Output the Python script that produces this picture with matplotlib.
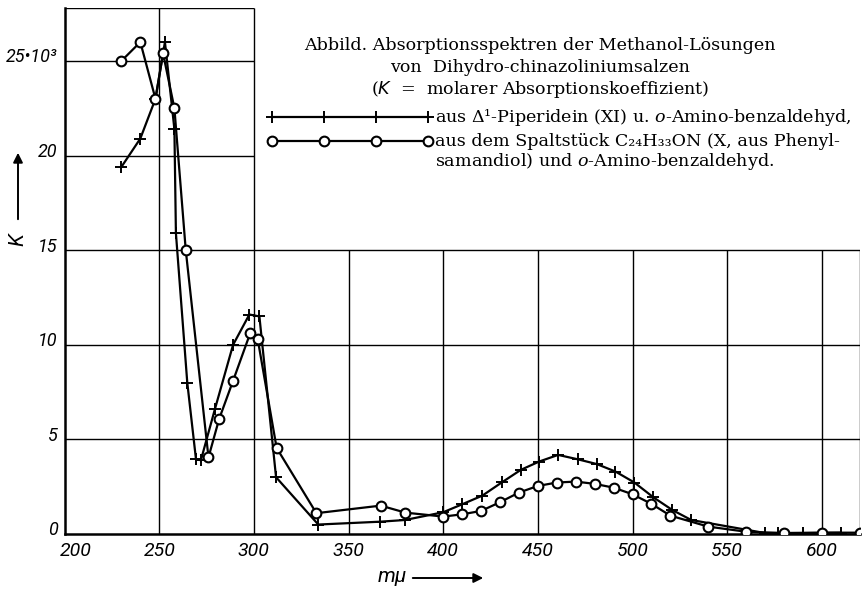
import matplotlib
matplotlib.use('Agg')
import matplotlib.pyplot as plt
from matplotlib.lines import Line2D
from matplotlib.patches import FancyArrowPatch
from matplotlib.transforms import ScaledTranslation

plt.rcParams['mathtext.fontset'] = 'custom'
plt.rcParams['mathtext.rm'] = 'DejaVu Serif'
plt.rcParams['mathtext.it'] = 'DejaVu Serif:italic'
plt.rcParams['mathtext.sf'] = 'DejaVu Sans:italic'

# ---- data ----
wl_piperidein = [230, 240, 248, 253, 258, 258.8, 264.8, 269.4, 272, 279.4, 289, 297.6, 302.9,
                 311.7, 334, 366.6, 379.8, 400, 410, 420.7, 431, 441, 450.7, 460.7, 471, 481,
                 491, 501, 511, 521, 531, 570, 577, 590, 610]
k_piperidein = [19.4, 20.9, 23.0, 26.0, 21.4, 15.9, 8.0, 3.95, 3.9, 6.6, 10.0, 11.6, 11.5,
                3.0, 0.5, 0.65, 0.74, 1.15, 1.57, 2.03, 2.73, 3.39, 3.83, 4.18, 3.95, 3.7,
                3.3, 2.72, 1.94, 1.27, 0.74, 0.05, 0.05, 0.05, 0.07]

wl_spalt = [230, 240, 248, 252, 258, 264, 276, 281.6, 289, 298, 302, 312, 333, 367, 380,
            400, 410, 420, 430, 440, 450, 460, 470, 480, 490, 500, 510, 520, 540, 560, 580,
            600, 620]
k_spalt = [25.0, 26.0, 23.0, 25.4, 22.5, 15.0, 4.05, 6.07, 8.1, 10.6, 10.3, 4.55, 1.1, 1.5,
           1.13, 0.92, 1.04, 1.22, 1.68, 2.19, 2.54, 2.72, 2.77, 2.65, 2.45, 2.1, 1.59, 0.97,
           0.39, 0.12, 0.05, 0.07, 0.07]

x_ticks = [200, 250, 300, 350, 400, 450, 500, 550, 600]
y_ticks = [0, 5, 10, 15, 20, 25]
y_tick_labels = ['0', '5', '10', '15', '20', '25•10³']

title_lines = ['Abbild. Absorptionsspektren der Methanol-Lösungen',
               'von  Dihydro-chinazoliniumsalzen',
               r'($\mathsf{K}$  =  molarer Absorptionskoeffizient)']
legend_lines = [r'aus Δ¹-Piperidein (XI) u. $o$-Amino-benzaldehyd,',
                'aus dem Spaltstück C₂₄H₃₃ON (X, aus Phenyl-',
                r'samandiol) und $o$-Amino-benzaldehyd.']

W, H = 864, 590
fig = plt.figure(figsize=(W / 100, H / 100), dpi=100)
x0, x1, ytop, ybot = 64.6, 859.7, 8, 534
ax = fig.add_axes([x0 / W, 1 - ybot / H, (x1 - x0) / W, (ybot - ytop) / H])
ax.set_xlim(200, 620)
ax.set_ylim(0, 27.8)
for s in ['top', 'right']:
    ax.spines[s].set_visible(False)
for s in ['left', 'bottom']:
    ax.spines[s].set_linewidth(1.8)

gc = dict(color='black', lw=1.0, zorder=1)
ax.hlines([5, 10, 15], 200, 620, **gc)
ax.hlines([20, 25, 27.8], 200, 300, **gc)
ax.vlines([250, 300], 0, 27.8, **gc)
ax.vlines([350, 400, 450, 500, 550, 600, 620], 0, 15, **gc)

ax.set_xticks(x_ticks)
ax.set_xticklabels([str(v) for v in x_ticks], family='Roboto', style='italic', size=14)
ax.set_yticks(y_ticks)
ax.set_yticklabels(y_tick_labels, family='Roboto', style='italic', size=13)
ax.tick_params(length=0, pad=6)
ax.tick_params(axis='y', pad=5)

# small offsets like the original lettering
for lab in ax.get_yticklabels():
    lab.set_transform(lab.get_transform() + ScaledTranslation(0, 4 / 72, fig.dpi_scale_trans))
first = ax.get_xticklabels()[0]
first.set_transform(first.get_transform() + ScaledTranslation(8 / 72, 0, fig.dpi_scale_trans))

ax.plot(wl_piperidein, k_piperidein, color='black', lw=1.6, marker='+', ms=9, mew=1.4, zorder=3)
ax.plot(wl_spalt, k_spalt, color='black', lw=1.6, marker='o', ms=7, mfc='white', mew=1.5, zorder=4)


def P(x, y):
    return (x / W, 1 - y / H)


serif = dict(family='DejaVu Serif', size=12.6)
for txt, yy in zip(title_lines, [45, 67, 89]):
    fig.text(*P(540, yy), txt, ha='center', va='center', **serif)

for txt, yy in zip(legend_lines, [117, 141, 162]):
    fig.text(*P(435, yy), txt, ha='left', va='center', **serif)

mx = [272, 324, 376, 428]
fig.add_artist(Line2D([P(v, 117)[0] for v in mx], [P(v, 117)[1] for v in mx],
                      transform=fig.transFigure, color='black', lw=1.6, marker='+', ms=9, mew=1.4))
fig.add_artist(Line2D([P(v, 141)[0] for v in mx], [P(v, 141)[1] for v in mx],
                      transform=fig.transFigure, color='black', lw=1.6, marker='o', ms=7,
                      mfc='white', mew=1.5))

# axis labels with arrows
fig.text(*P(392, 577), 'mμ', ha='center', va='center', family='Roboto', style='italic', size=15)
fig.add_artist(FancyArrowPatch(P(410, 578), P(486, 578), transform=fig.transFigure,
                               arrowstyle='-|>', mutation_scale=14, lw=1.4, color='black'))
fig.text(*P(18, 240), 'K', ha='center', va='center', family='Roboto', style='italic', size=15,
         rotation=90)
fig.add_artist(FancyArrowPatch(P(18, 222), P(18, 150), transform=fig.transFigure,
                               arrowstyle='-|>', mutation_scale=14, lw=1.4, color='black'))

fig.savefig('out.png', dpi=100)
